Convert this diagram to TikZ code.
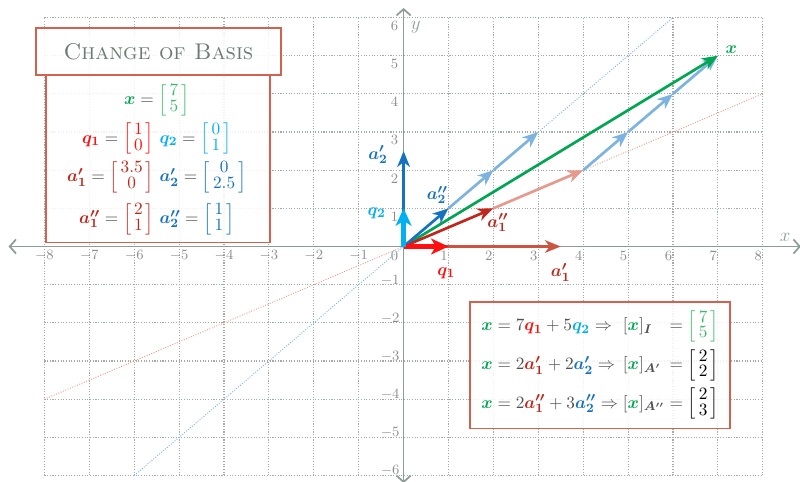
\documentclass[tikz,border=0pt]{standalone}
\usepackage{xcolor}
\usepackage{amsmath,amssymb,bm}
\usepackage{tikz}
\usetikzlibrary{calc,positioning,arrows.meta}

\definecolor{axisgray}{HTML}{8E9C96}
\definecolor{gridgray}{HTML}{A4AAA7}
\definecolor{boxred}{HTML}{D4604E}
\definecolor{titlegray}{HTML}{6B7A72}
\definecolor{xgreen}{HTML}{00A651}
\definecolor{xgreenlt}{HTML}{3DB86A}
\definecolor{qred}{HTML}{FF1010}
\definecolor{qcyan}{HTML}{00B0F0}
\definecolor{ared}{HTML}{C0261C}
\definecolor{ared2}{HTML}{CC5440}
\definecolor{ablue}{HTML}{1572C0}
\definecolor{ltblue}{HTML}{7DB3E0}
\definecolor{ltred}{HTML}{E69A8E}
\definecolor{textgray}{HTML}{505050}

\newcommand{\vx}{\textcolor{xgreen}{\bm{x}}}
\newcommand{\vqa}{\textcolor{qred}{\bm{q_1}}}
\newcommand{\vqb}{\textcolor{qcyan}{\bm{q_2}}}
\newcommand{\vap}{\textcolor{ared}{\bm{a'_1}}}
\newcommand{\vbp}{\textcolor{ablue}{\bm{a'_2}}}
\newcommand{\vapp}{\textcolor{ared}{\bm{a''_1}}}
\newcommand{\vbpp}{\textcolor{ablue}{\bm{a''_2}}}
\newcommand{\colvec}[3]{\textcolor{#1}{{\renewcommand{\arraystretch}{0.68}%
  \left[\begin{array}{@{\,}c@{\,}}#2\\#3\end{array}\right]}}}

\begin{document}
\begin{tikzpicture}[x=1cm, y=0.85cm,
    gridline/.style={gridgray, densely dotted, line width=0.7pt},
    axis/.style={axisgray, line width=1.1pt, {Straight Barb[length=4pt,width=9pt]}-{Straight Barb[length=4pt,width=9pt]}},
    ticklbl/.style={text=gray!90, font=\small, inner sep=1pt},
    vec/.style={line width=1.7pt, -{Stealth[length=10pt,width=8pt,inset=3pt]}},
    basevec/.style={line width=2.9pt, -{Stealth[length=11pt,width=10pt,inset=3pt]}},
    veclbl/.style={inner sep=1pt, font=\fontsize{11}{13}\selectfont},
    infobox/.style={draw=boxred, line width=1pt, fill=white, fill opacity=0.85, text opacity=1, text=textgray},
    mathrow/.style={text=textgray, inner sep=0pt, font=\fontsize{11}{13}\selectfont},
  ]
  \useasboundingbox (-8.99,-6.16) rectangle (8.83,6.46);

  % grid and axes
  \draw[gridline] (-8,-6) grid[step=1] (8,6);
  \draw[axis] (-8.8,0) -- (8.85,0);
  \draw[axis] (0,-6.2) -- (0,6.25);
  \foreach \i in {-8,...,-1}
    \node[ticklbl] (tx\i) at (\i,-0.24) {$\i$};
  \foreach \i in {1,...,8}
    \node[ticklbl] (tx\i) at (\i-0.1,-0.24) {$\i$};
  \node[ticklbl] (tx0) at (-0.2,-0.24) {$0$};
  \foreach \j in {1,...,6}
    \node[ticklbl, anchor=east] (ty\j) at (-0.08,\j-0.22) {$\j$};
  \foreach \j in {-6,...,-1}
    \node[ticklbl, anchor=east] (ty\j) at (-0.05,\j+0.12) {$\j$};
  \node[text=axisgray, font=\large] (xlbl) at (8.5,0.25) {$x$};
  \node[text=axisgray, font=\large] (ylbl) at (0.27,5.75) {$y$};

  % span lines
  \draw[ltblue, densely dotted, line width=0.6pt] (-6,-6) -- (6,6);
  \draw[ltred, densely dotted, line width=0.6pt] (-8,-4) -- (8,4);

  % points
  \coordinate (O) at (0,0);
  \coordinate (Q1) at (1,0);
  \coordinate (Q2) at (0,1);
  \coordinate (A1p) at (3.5,0);
  \coordinate (A2p) at (0,2.5);
  \coordinate (A1pp) at (2,1);
  \coordinate (A2pp) at (1,1);
  \coordinate (P22) at (2,2);
  \coordinate (P33) at (3,3);
  \coordinate (P42) at (4,2);
  \coordinate (P53) at (5,3);
  \coordinate (P64) at (6,4);
  \coordinate (X) at (7,5);

  % combinations
  \draw[vec, ltblue] (A2pp) -- (P22);
  \draw[vec, ltblue] (P22) -- (P33);
  \draw[vec, ltblue] (P42) -- (P53);
  \draw[vec, ltblue] (P53) -- (P64);
  \draw[vec, ltblue] (P64) -- (X);
  \draw[vec, ltred] (A1pp) -- (P42);
  \draw[vec, xgreen] (O) -- (X);

  % basis vectors
  \draw[vec, ared2] (O) -- (A1p);
  \draw[vec, ablue] (O) -- (A2p);
  \draw[vec, ared] (O) -- (A1pp);
  \draw[vec, ablue] (O) -- (A2pp);
  \draw[basevec, qred] (O) -- (Q1);
  \draw[basevec, qcyan] (O) -- (Q2);

  \node[veclbl] (lx) at (7.3,5.15) {$\vx$};
  \node[veclbl] (lq1) at (0.95,-0.7) {$\vqa$};
  \node[veclbl] (lq2) at (-0.6,0.88) {$\vqb$};
  \node[veclbl] (la1p) at (3.5,-0.68) {$\vap$};
  \node[veclbl] (la2p) at (-0.57,2.4) {$\vbp$};
  \node[veclbl] (la1pp) at (2.1,0.62) {$\vapp$};
  \node[veclbl] (la2pp) at (0.75,1.35) {$\vbpp$};

  % legend
  \node[infobox, minimum width=4.98cm, minimum height=3.73cm] (defs) at (-5.47,2.3) {};
  \node[infobox, minimum width=5.46cm, minimum height=1.05cm, text=titlegray, font=\Large] (title) at (-5.46,5.11) {\textsc{Change of Basis}};
  \node[mathrow] (rowx) at (-5.5,3.84) {$\vx = \colvec{xgreenlt}{7}{5}$};
  \node[mathrow] (rowq) at (-5.5,2.82) {$\vqa = \colvec{qred}{1}{0}\ \vqb = \colvec{qcyan}{0}{1}$};
  \node[mathrow] (rowap) at (-5.5,1.82) {$\vap = \colvec{ared}{3.5}{0}\ \vbp = \colvec{ablue}{0}{2.5}$};
  \node[mathrow] (rowapp) at (-5.5,0.72) {$\vapp = \colvec{ared}{2}{1}\ \vbpp = \colvec{ablue}{1}{1}$};

  \node[infobox, minimum width=5.79cm, minimum height=2.82cm, font=\fontsize{11}{13}\selectfont] (coords) at (4.375,-3.11) {$\begin{array}{@{}l@{\;}l@{}l@{}}
    \vx = 7\vqa + 5\vqb \Rightarrow & [\vx]_{\bm{I}} & {}= \colvec{xgreenlt}{7}{5}\\[8pt]
    \vx = 2\vap + 2\vbp \Rightarrow & [\vx]_{\bm{A'}} & {}= \colvec{black}{2}{2}\\[8pt]
    \vx = 2\vapp + 3\vbpp \Rightarrow & [\vx]_{\bm{A''}} & {}= \colvec{black}{2}{3}
  \end{array}$};
\end{tikzpicture}
\end{document}
